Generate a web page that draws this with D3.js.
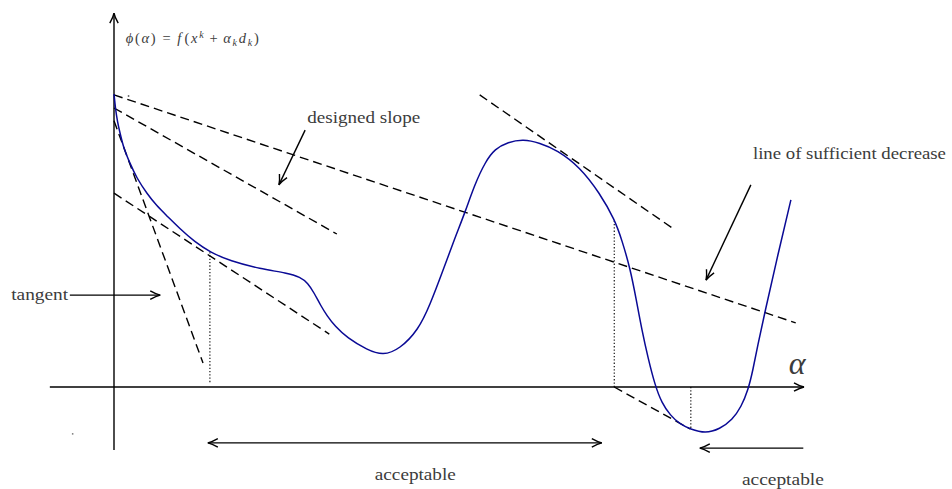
<!DOCTYPE html>
<html>
<head>
<meta charset="utf-8">
<script src="https://cdn.jsdelivr.net/npm/d3@7"></script>
<style>
  html, body { margin: 0; padding: 0; background: #fff; }
  svg { display: block; }
</style>
</head>
<body>
<svg id="chart" width="952" height="489"></svg>
<script>
// phi(alpha) sampled along the step length
const alphaValues = [0.00, 0.02, 0.05, 0.09, 0.14, 0.23, 0.33, 0.48, 0.62, 0.77, 0.96, 1.17, 1.39, 1.68, 2.12, 2.51, 2.70, 2.81, 2.90, 2.99, 3.09, 3.20, 3.38, 3.67, 3.90, 4.14, 4.41, 4.58, 4.77, 4.94, 5.09, 5.23, 5.38, 5.52, 5.71, 5.93, 6.17, 6.42, 6.75, 7.04, 7.26, 7.36, 7.48, 7.57, 7.65, 7.74, 7.84, 7.94, 8.06, 8.20, 8.35, 8.57, 8.78, 8.96, 9.09, 9.19, 9.26, 9.33, 9.43, 9.62, 9.81];
const phiValues   = [7.81, 7.44, 7.07, 6.75, 6.37, 5.97, 5.57, 5.15, 4.83, 4.56, 4.21, 3.87, 3.60, 3.36, 3.15, 3.04, 2.93, 2.77, 2.51, 2.19, 1.89, 1.63, 1.31, 0.99, 0.84, 1.01, 1.52, 2.19, 3.12, 3.97, 4.67, 5.41, 6.00, 6.35, 6.53, 6.61, 6.51, 6.32, 5.87, 5.17, 4.45, 3.92, 3.17, 2.32, 1.52, 0.77, 0.05, -0.43, -0.75, -0.99, -1.12, -1.24, -1.12, -0.88, -0.53, -0.08, 0.45, 1.12, 1.97, 3.52, 4.99];

// dashed reference lines: [alpha0, phi0, alpha1, phi1]
const sufficientDecrease = [0.00, 7.79, 9.88, 1.71];
const designedSlope      = [0.00, 7.44, 3.23, 4.08];
const designedSlopeLow   = [0.00, 5.17, 3.12, 1.41];
const tangentAtZero      = [0.00, 7.10, 1.29, 0.64];
const tangentAtPeak      = [5.30, 7.79, 8.13, 4.19];
const tangentAtMin       = [7.25, 0.00, 8.35, -1.12];

// dotted drop lines: [alpha, phiFrom, phiTo]
const dropLines = [
  [1.39, 0.13, 3.60],
  [7.25, 0.00, 4.49],
  [8.36, 0.00, -1.12]
];

// annotation arrows: [alphaFrom, phiFrom, alphaTo, phiTo, headAtStart]
const arrows = [
  [-0.64, 2.45, 0.67, 2.45, false],
  [2.77, 6.85, 2.39, 5.39, false],
  [9.23, 5.39, 8.58, 2.85, false],
  [1.36, -1.49, 7.07, -1.49, true],
  [9.99, -1.63, 8.49, -1.63, false]
];

// axes extents
const alphaAxis = [-0.93, 10.0];
const phiAxis = [-1.68, 9.97];

const serif = "'Liberation Serif', 'DejaVu Serif', serif";
const textColor = "#3c3c3c";

const svg = d3.select("#chart");
const x = d3.scaleLinear().domain([0, 10]).range([114, 804]);
const y = d3.scaleLinear().domain([0, 10]).range([387, 12]);

const defs = svg.append("defs");
defs.append("marker")
  .attr("id", "head")
  .attr("markerUnits", "userSpaceOnUse")
  .attr("viewBox", "-12 -6 14 12")
  .attr("refX", 0).attr("refY", 0)
  .attr("markerWidth", 14).attr("markerHeight", 12)
  .attr("orient", "auto-start-reverse")
  .append("path")
  .attr("d", "M-10,-4.2 Q-4,-0.8 0,0 Q-4,0.8 -10,4.2")
  .attr("fill", "none")
  .attr("stroke", "#000")
  .attr("stroke-width", 1.4);

// axes
svg.append("line")
  .attr("x1", x(alphaAxis[0])).attr("y1", y(0))
  .attr("x2", x(alphaAxis[1])).attr("y2", y(0))
  .attr("stroke", "#000").attr("stroke-width", 1.4)
  .attr("marker-end", "url(#head)");
svg.append("line")
  .attr("x1", x(0)).attr("y1", y(phiAxis[0]))
  .attr("x2", x(0)).attr("y2", y(phiAxis[1]))
  .attr("stroke", "#000").attr("stroke-width", 1.4)
  .attr("marker-end", "url(#head)");

// dashed lines
const dashed = [sufficientDecrease, designedSlope, designedSlopeLow, tangentAtZero, tangentAtPeak, tangentAtMin];
svg.append("g").selectAll("line").data(dashed).join("line")
  .attr("x1", d => x(d[0])).attr("y1", d => y(d[1]))
  .attr("x2", d => x(d[2])).attr("y2", d => y(d[3]))
  .attr("stroke", "#000").attr("stroke-width", 1.4)
  .attr("stroke-dasharray", "9,5");

// dotted drop lines
svg.append("g").selectAll("line").data(dropLines).join("line")
  .attr("x1", d => x(d[0])).attr("y1", d => y(d[1]))
  .attr("x2", d => x(d[0])).attr("y2", d => y(d[2]))
  .attr("stroke", "#000").attr("stroke-width", 1.1)
  .attr("stroke-dasharray", "1.3,2");

// the function curve
const pts = alphaValues.map((a, i) => [a, phiValues[i]]);
svg.append("path")
  .datum(pts)
  .attr("fill", "none")
  .attr("stroke", "#0a0a95")
  .attr("stroke-width", 1.5)
  .attr("d", d3.line().x(d => x(d[0])).y(d => y(d[1])).curve(d3.curveBasis));

// annotation arrows
svg.append("g").selectAll("line").data(arrows).join("line")
  .attr("x1", d => x(d[0])).attr("y1", d => y(d[1]))
  .attr("x2", d => x(d[2])).attr("y2", d => y(d[3]))
  .attr("stroke", "#000").attr("stroke-width", 1.4)
  .attr("marker-end", "url(#head)")
  .attr("marker-start", d => d[4] ? "url(#head)" : null);

// stray dots
svg.append("rect").attr("x", x(-0.61)).attr("y", y(-1.23)).attr("width", 1.5).attr("height", 1.5).attr("fill", "#777");
svg.append("rect").attr("x", x(0.2)).attr("y", y(7.78)).attr("width", 1.5).attr("height", 1.5).attr("fill", "#444");

// labels
function label(text, a, p, size, len, italic) {
  const t = svg.append("text")
    .attr("x", x(a)).attr("y", y(p))
    .style("font-family", serif)
    .attr("fill", textColor)
    .attr("font-size", size)
    .text(text);
  if (len) t.attr("textLength", len).attr("lengthAdjust", "spacingAndGlyphs");
  if (italic) t.attr("font-style", "italic");
  return t;
}
label("designed slope", 2.80, 7.04, 17, 113);
label("line of sufficient decrease", 9.26, 6.08, 17, 193);
label("tangent", -1.49, 2.32, 17, 57);
label("acceptable", 3.78, -2.48, 17, 81);
label("acceptable", 9.10, -2.61, 17, 82);
label("\u03B1", 9.78, 0.34, 32, null, true);

// phi(alpha) = f(x^k + alpha_k d_k)
const f = svg.append("text")
  .attr("x", x(0.17)).attr("y", y(9.17))
  .style("font-family", serif)
  .attr("fill", textColor)
  .attr("font-size", 14.5)
  .attr("font-style", "italic")
  .attr("textLength", 133)
  .attr("lengthAdjust", "spacing");
f.append("tspan").text("\u03D5");
f.append("tspan").attr("font-style", "normal").text("(");
f.append("tspan").text("\u03B1");
f.append("tspan").attr("font-style", "normal").text(")");
f.append("tspan").attr("font-style", "normal").attr("dx", 5).text("=");
f.append("tspan").attr("dx", 5).text("f");
f.append("tspan").attr("font-style", "normal").attr("dx", 1.5).text("(");
f.append("tspan").text("x");
f.append("tspan").attr("font-size", 10).attr("dy", -5.5).text("k");
f.append("tspan").attr("font-style", "normal").attr("dy", 5.5).attr("dx", 4).text("+");
f.append("tspan").attr("dx", 4).text("\u03B1");
f.append("tspan").attr("font-size", 10).attr("dy", 3).text("k");
f.append("tspan").attr("dy", -3).text("d");
f.append("tspan").attr("font-size", 10).attr("dy", 3).text("k");
f.append("tspan").attr("font-style", "normal").attr("dy", -3).text(")");
</script>
</body>
</html>
